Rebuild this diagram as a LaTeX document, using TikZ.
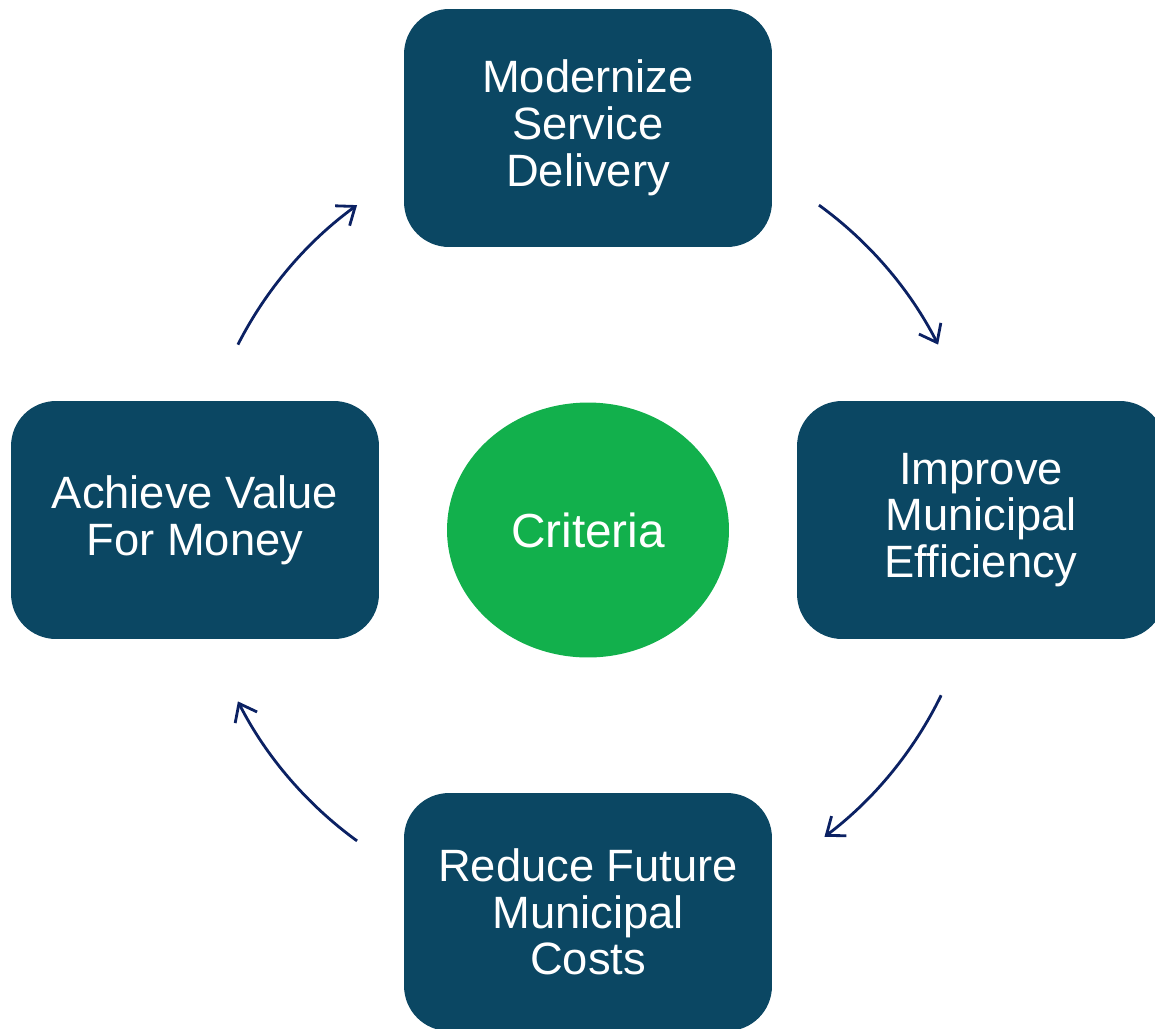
\documentclass[tikz,border=0pt]{standalone}
\usepackage{fontspec}
\setmainfont{Liberation Sans}
\usetikzlibrary{arrows.meta,shapes.geometric,calc}
\definecolor{boxblue}{HTML}{0B4763}
\definecolor{critgreen}{HTML}{12B04C}
\definecolor{arrowblue}{HTML}{0B2163}
\tikzset{
  box/.style={draw=none, fill=boxblue, rounded corners=0.9cm, minimum width=7.36cm, minimum height=4.76cm, inner sep=0pt, text=white, align=center, font=\fontsize{25.8}{26.6}\selectfont},
  crit/.style={ellipse, draw=none, fill=critgreen, minimum width=5.64cm, minimum height=5.1cm, inner sep=0pt, text=white, font=\fontsize{27.2}{30}\selectfont},
  cyc/.style={draw=arrowblue, line width=1.6pt, -{Straight Barb[length=9pt,width=14pt,line width=1.6pt]}}
}
\begin{document}
\begin{tikzpicture}[x=0.02cm,y=-0.02cm]
\useasboundingbox (0,0) rectangle (1155,1028);
\clip (0,0) rectangle (1155,1028);
\node[box] (top) at (588,128) {Modernize\\Service\\Delivery};
\node[box] (right) at (981,520) {Improve\\Municipal\\Efficiency};
\node[box] (left) at (195,520) {Achieve Value\\For Money};
\node[box] (bottom) at (588,912) {Reduce Future\\Municipal\\Costs};
\node[crit] (c) at (588,530) {Criteria};
\coordinate (o) at (588,523);
\coordinate (a1) at ($(o)+(54:7.86cm)$);
\coordinate (a2) at ($(o)+(-26:7.86cm)$);
\coordinate (a3) at ($(o)+(234:7.86cm)$);
\coordinate (a4) at ($(o)+(153:7.86cm)$);
\draw[cyc] (a1) arc[start angle=54, end angle=27, radius=7.86cm];
\draw[cyc] (a2) arc[start angle=-26, end angle=-53, radius=7.86cm];
\draw[cyc] (a3) arc[start angle=234, end angle=207, radius=7.86cm];
\draw[cyc] (a4) arc[start angle=153, end angle=126, radius=7.86cm];
\end{tikzpicture}
\end{document}
